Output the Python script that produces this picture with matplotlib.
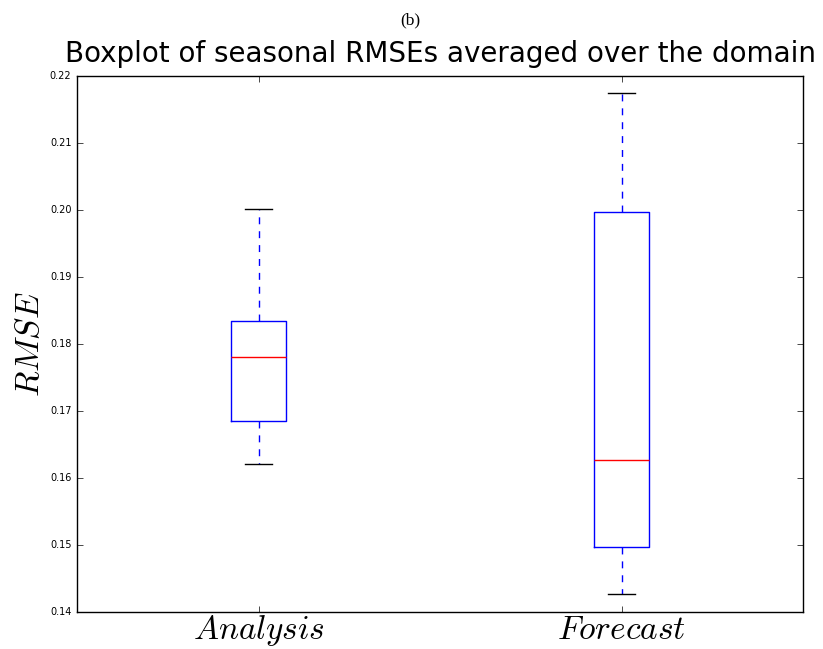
import matplotlib
matplotlib.use("Agg")
import matplotlib.pyplot as plt

plt.style.use("classic")
plt.rcParams["mathtext.fontset"] = "cm"

# Seasonal RMSE box statistics
labels = ["$Analysis$", "$Forecast$"]
whis_low = [0.1620, 0.1427]
q1 = [0.1685, 0.1497]
medians = [0.1780, 0.1626]
q3 = [0.1834, 0.1998]
whis_high = [0.2002, 0.2175]

stats = [
    dict(label=labels[i], whislo=whis_low[i], q1=q1[i], med=medians[i],
         q3=q3[i], whishi=whis_high[i], fliers=[])
    for i in range(len(labels))
]

fig = plt.figure(figsize=(8.23, 6.49), dpi=100, facecolor="white")
ax = fig.add_axes([0.0936, 0.0575, 0.8821, 0.8249])

ax.bxp(stats, positions=[1, 2], widths=0.15, showfliers=False,
       boxprops=dict(color="blue", linewidth=1.0),
       whiskerprops=dict(color="blue", linestyle=(0, (5, 5)), linewidth=1.0),
       capprops=dict(color="black", linewidth=1.0),
       medianprops=dict(color="red", linewidth=1.0))

ax.set_xlim(0.5, 2.5)
ax.set_ylim(0.14, 0.22)
ax.set_yticks([0.14, 0.15, 0.16, 0.17, 0.18, 0.19, 0.20, 0.21, 0.22])
ax.set_yticklabels(["0.14", "0.15", "0.16", "0.17", "0.18", "0.19",
                    "0.20", "0.21", "0.22"], fontsize=7)
ax.tick_params(axis="x", labelsize=24, pad=1)
ax.tick_params(direction="in", length=4, top=True, right=True)
ax.set_ylabel("$RMSE$", fontsize=24, labelpad=3)
ax.set_title("Boxplot of seasonal RMSEs averaged over the domain",
             fontsize=20.0, family="DejaVu Sans", pad=10)

fig.text(0.498, 0.969, "(b)", ha="center", va="center",
         fontsize=12.5, family="Liberation Serif")

fig.savefig("out.png", dpi=100, facecolor="white")
